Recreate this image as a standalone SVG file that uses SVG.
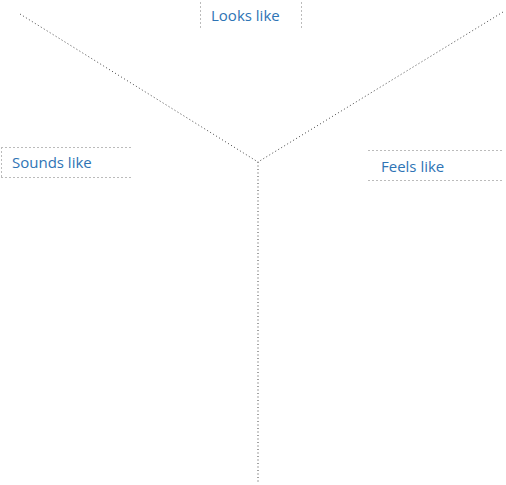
<svg xmlns="http://www.w3.org/2000/svg" width="506" height="485" viewBox="0 0 506 485">
<style>
.conn{stroke:#444;stroke-width:1;stroke-dasharray:1 2.5;fill:none}
.box{stroke:#bbb;stroke-width:1;stroke-dasharray:2 2;fill:none}
.lbl{font-family:"Open Sans","Liberation Sans",sans-serif;font-size:15px;fill:#2E74B5}
</style>
<rect width="506" height="485" fill="#fff"/>
<g id="connectors">
<line class="conn" x1="20" y1="14" x2="258" y2="162"/>
<line class="conn" x1="503" y1="12" x2="258" y2="162"/>
<line class="conn" x1="258" y1="162" x2="258" y2="482"/>
</g>
<g id="looks">
<line class="box" x1="200.5" y1="2" x2="200.5" y2="28"/>
<line class="box" x1="301.5" y1="2" x2="301.5" y2="28"/>
<text class="lbl" x="211" y="21">Looks like</text>
</g>
<g id="sounds">
<line class="box" x1="1" y1="147.5" x2="133" y2="147.5"/>
<line class="box" x1="1" y1="177.5" x2="133" y2="177.5"/>
<line class="box" x1="1.5" y1="147" x2="1.5" y2="177"/>
<text class="lbl" x="12" y="168">Sounds like</text>
</g>
<g id="feels">
<line class="box" x1="368" y1="150.5" x2="502" y2="150.5"/>
<line class="box" x1="368" y1="180.5" x2="502" y2="180.5"/>
<text class="lbl" x="381" y="172">Feels like</text>
</g>
</svg>
